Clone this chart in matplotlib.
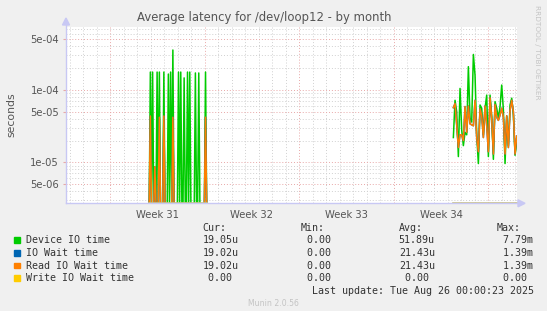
import numpy as np
import matplotlib.pyplot as plt
from matplotlib.lines import Line2D
from matplotlib.patches import Rectangle, Polygon
from matplotlib.ticker import NullLocator

W, H = 547, 311

title = "Average latency for /dev/loop12 - by month"
week_labels = ["Week 31", "Week 32", "Week 33", "Week 34"]
first_monday = 3.26      # days from left edge to first week boundary
x_end = 33.38            # plot width in days
y_min, y_max = 2.71e-6, 7.43e-4
y_ticks = [5e-6, 1e-5, 5e-5, 1e-4, 5e-4]

# burst in week 31, 2 hour samples
w31_start = 6.16
w31_step = 1 / 12
device_w31 = [0, 1.77e-4, 0, 1.77e-4, 0, 0, 0, 1.77e-4, 0, 1.77e-4, 0, 0, 0,
              1.77e-4, 0, 0, 0, 1.66e-4, 0, 1.77e-4, 0, 3.57e-4, 0, 0, 0, 0,
              1.77e-4, 0, 1.77e-4, 0, 0, 1.47e-4, 0, 0, 1.77e-4, 0, 1.77e-4,
              0, 0, 0, 0, 1.72e-4, 0, 0, 1.72e-4, 0, 0, 0, 0, 0, 1.77e-4, 0]
read_w31 = [0, 4.37e-5, 0, 0, 0, 8.7e-6, 0, 0, 0, 4.2e-5, 0, 0, 0,
            4.37e-5, 0, 0, 0, 0, 0, 0, 0, 4.2e-5, 0, 0, 0, 0,
            0, 0, 0, 0, 0, 0, 0, 0, 0, 0, 0,
            0, 0, 0, 0, 0, 0, 0, 0, 0, 0, 0, 0, 0, 4.2e-5, 0]

# week 34
w34_start = 28.67
w34_step = 0.1234
device_w34 = [2.2e-5, 7.2e-5, 5.0e-5, 1.2e-5, 1.05e-4, 2.8e-5, 1.7e-5, 2.6e-5,
              2.4e-5, 2.1e-4, 4.1e-5, 3.6e-5, 3.1e-4, 1.6e-4, 2.4e-5, 9.6e-6,
              6.2e-5, 5.6e-5, 2.4e-5, 5.6e-5, 8.5e-5, 1.2e-5, 8.5e-5, 4.3e-5,
              1.1e-5, 6.9e-5, 5.6e-5, 4.1e-5, 5.9e-5, 1.17e-4, 5.3e-5, 9.6e-6,
              4.3e-5, 1.7e-5, 6.2e-5, 7.7e-5, 4.5e-5, 1.25e-5, 1.9e-5]
read_w34 = [5.7e-5, 6.5e-5, 3.3e-5, 1.6e-5, 2.4e-5, 2.4e-5, 2.0e-5, 5.9e-5,
            2.6e-5, 6.0e-5, 3.4e-5, 3.3e-5, 3.2e-5, 7.2e-5, 2.2e-5, 1.4e-5,
            5.5e-5, 4.4e-5, 2.2e-5, 6.0e-5, 3.2e-5, 1.4e-5, 7.8e-5, 4.0e-5,
            1.3e-5, 6.3e-5, 4.2e-5, 3.8e-5, 4.5e-5, 5.6e-5, 4.2e-5, 1.3e-5,
            4.4e-5, 1.6e-5, 5.2e-5, 7.2e-5, 5.0e-5, 1.3e-5, 2.3e-5]

legend_names = ["Device IO time", "IO Wait time", "Read IO Wait time", "Write IO Wait time"]
legend_colors = ["#00cc00", "#0066b3", "#ff8000", "#ffcc00"]
cur_vals = ["19.05u", "19.02u", "19.02u", " 0.00 "]
min_vals = [" 0.00 ", " 0.00 ", " 0.00 ", " 0.00 "]
avg_vals = ["51.89u", "21.43u", "21.43u", " 0.00 "]
max_vals = [" 7.79m", " 1.39m", " 1.39m", " 0.00 "]
last_update = "Last update: Tue Aug 26 00:00:23 2025"


def fpx(x, y):
    return x / W, 1 - y / H


def floor(v):
    v = np.asarray(v, dtype=float)
    return np.where(v > 0, v, y_min * 0.97)


fig = plt.figure(figsize=(W / 100, H / 100), dpi=100, facecolor="#f0f0f0")
ax = fig.add_axes([66 / W, 1 - 203.3 / H, 451 / W, 176.3 / H])
ax.set_facecolor("white")
ax.set_yscale("log")
ax.set_xlim(0, x_end)
ax.set_ylim(y_min, y_max)

# grid
grid_gray = "#d0d0d0"
grid_red = "#e8a8a8"
dots = (0, (1, 2))
for d in np.arange(first_monday - 3, x_end, 1.0):
    is_week = abs(((d - first_monday) / 7) - round((d - first_monday) / 7)) < 1e-6
    ax.axvline(d, color=grid_red if is_week else grid_gray, lw=0.7, ls=dots, zorder=1)
for e in range(-6, -3):
    for m in range(1, 10):
        v = m * 10.0 ** e
        if y_min < v < y_max:
            ax.axhline(v, color=grid_red if m in (1, 5) else grid_gray, lw=0.7, ls=dots, zorder=1)

t31 = w31_start + w31_step * np.arange(len(device_w31))
t34 = w34_start + w34_step * np.arange(len(device_w34))

for t, dev, rd in [(t31, device_w31, read_w31), (t34, device_w34, read_w34)]:
    ax.plot(t, floor(dev), color=legend_colors[0], lw=1.1, zorder=3)
    ax.plot(t, floor(rd), color=legend_colors[1], lw=1.1, zorder=4)
    ax.plot(t, floor(rd), color=legend_colors[2], lw=1.1, zorder=5)
    ax.plot(t, np.full(len(t), y_min), color="#c8c080", lw=1.2, zorder=6, clip_on=False)

ax.yaxis.set_minor_locator(NullLocator())
ax.set_yticks(y_ticks)
ax.set_yticklabels(["%.0e" % v for v in y_ticks])
ax.set_xticks(first_monday + 3.5 + 7 * np.arange(len(week_labels)))
ax.set_xticklabels(week_labels)
ax.tick_params(axis="y", length=2, color=grid_red, pad=3, labelsize=7.2, labelcolor="#555555")
ax.tick_params(axis="x", length=0, pad=5, labelsize=7.2, labelcolor="#555555")
ax.xaxis.set_minor_locator(NullLocator())
for s in ax.spines.values():
    s.set_visible(False)

# axis lines with arrows
axis_col = "#c8c8f4"
fig.add_artist(Line2D(*zip(fpx(66, 203.3), fpx(66, 23)), color=axis_col, lw=1))
fig.add_artist(Line2D(*zip(fpx(66, 203.3), fpx(520, 203.3)), color=axis_col, lw=1))
fig.add_artist(Polygon([fpx(66, 18), fpx(62.5, 25), fpx(69.5, 25)], closed=True,
                       color=axis_col, transform=fig.transFigure))
fig.add_artist(Polygon([fpx(525, 203.3), fpx(518, 199.8), fpx(518, 206.8)], closed=True,
                       color=axis_col, transform=fig.transFigure))

fig.text(*fpx(264, 17), title, ha="center", va="center", fontsize=8.4, color="#555555")
fig.text(*fpx(11, 115), "seconds", rotation=90, ha="center", va="center",
         fontsize=7.8, color="#555555")
fig.text(*fpx(537, 5), "RRDTOOL / TOBI OETIKER", rotation=270, ha="center", va="top",
         fontsize=5.3, color="#c4c4c4")

# legend
mono = "DejaVu Sans Mono"
cols_x = [202.4, 300.8, 398.8, 496.9]
for x, hdr in zip(cols_x, ["Cur:", "Min:", "Avg:", "Max:"]):
    fig.text(*fpx(x, 227.7), hdr, family=mono, fontsize=7.2, color="#333333", va="center")
rows_y = [240.2, 253.1, 265.7, 277.9]
for i, y in enumerate(rows_y):
    fig.add_artist(Rectangle(fpx(14, y + 2.7), 5.5 / W, 5.5 / H, color=legend_colors[i],
                             transform=fig.transFigure))
    fig.text(*fpx(26.2, y), legend_names[i], family=mono, fontsize=7.2, color="#333333", va="center")
    for x, vals in zip(cols_x, [cur_vals, min_vals, avg_vals, max_vals]):
        fig.text(*fpx(x, y), vals[i], family=mono, fontsize=7.2, color="#333333", va="center")
fig.text(*fpx(311.6, 290.8), last_update, family=mono, fontsize=7.2, color="#333333", va="center")
fig.text(*fpx(273, 304), "Munin 2.0.56", ha="center", va="center", fontsize=5.6, color="#c4c4c4")

fig.savefig("out.png", dpi=100, facecolor=fig.get_facecolor())
